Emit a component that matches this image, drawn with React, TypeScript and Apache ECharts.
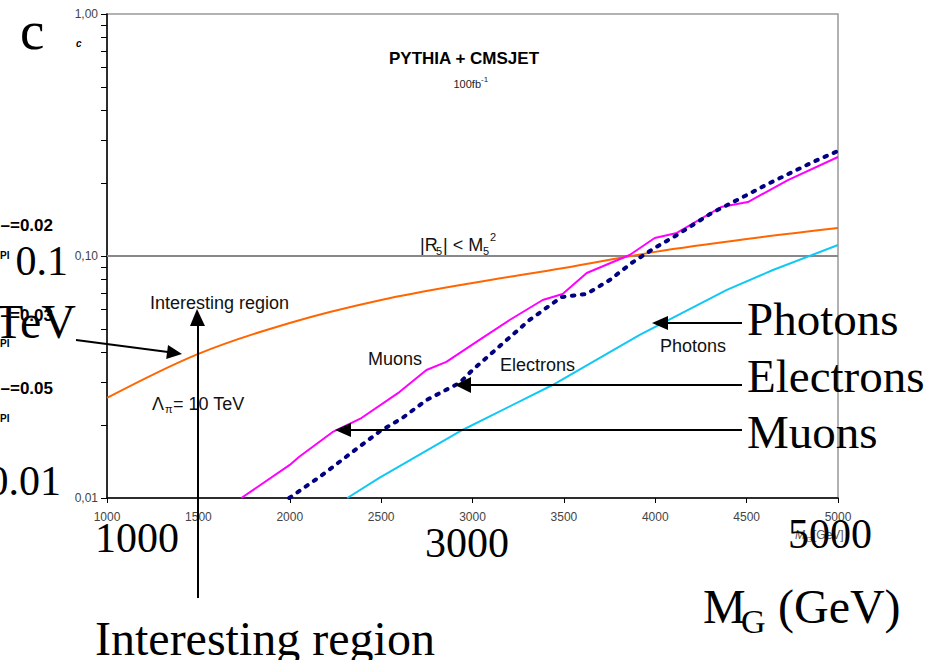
import React, { useEffect, useRef } from "react";
import * as echarts from "echarts";

// ---- data ----
const xTicks = [1000, 1500, 2000, 2500, 3000, 3500, 4000, 4500, 5000];
const yMajorLabels = [0.01, 0.1, 1];
const yTickValues = [
  0.01, 0.02, 0.03, 0.04, 0.05, 0.06, 0.07, 0.08, 0.09,
  0.1, 0.2, 0.3, 0.4, 0.5, 0.6, 0.7, 0.8, 0.9, 1,
];

// Lambda_pi = 10 TeV (orange)
const lambdaX = [1000, 1500, 2000, 2500, 3000, 3500, 4000, 4500, 5000];
const lambdaY = [0.0259, 0.0394, 0.0529, 0.0658, 0.0774, 0.0892, 0.104, 0.1175, 0.1305];

// Muons (magenta)
const muonX = [1735, 2000, 2052, 2233, 2392, 2600, 2748, 2857, 3038, 3203, 3384, 3493, 3625, 3860, 3997, 4118, 4360, 4507, 4726, 5000];
const muonY = [0.01, 0.0137, 0.0148, 0.0187, 0.0214, 0.0274, 0.0338, 0.0365, 0.045, 0.0544, 0.0658, 0.0697, 0.0851, 0.101, 0.1187, 0.1245, 0.1594, 0.167, 0.206, 0.2565];

// Electrons (navy, dotted)
const elecX = [1997, 2162, 2490, 2616, 2748, 2929, 3000, 3312, 3488, 3625, 3751, 3871, 3997, 4118, 4309, 4501, 4627, 4863, 5000];
const elecY = [0.01, 0.0122, 0.0188, 0.0214, 0.0254, 0.0299, 0.0338, 0.0544, 0.0677, 0.0697, 0.0796, 0.0936, 0.108, 0.122, 0.1506, 0.1787, 0.2004, 0.2446, 0.2716];

// Photons (cyan)
const photX = [2315, 2490, 2945, 3438, 3915, 4392, 4644, 5000];
const photY = [0.01, 0.0121, 0.0191, 0.0293, 0.0472, 0.0724, 0.0875, 0.111];

const limitValue = 0.1;

const pairs = (xs: number[], ys: number[]) => xs.map((x, i) => [x, ys[i]]);

const SERIF = "'Liberation Serif', 'Times New Roman', serif";
const SANS = "'Liberation Sans', Arial, sans-serif";

function txt(text: string, x: number, y: number, o: any = {}) {
  return {
    type: "text",
    x,
    y,
    z: 100,
    silent: true,
    style: {
      text,
      fill: o.fill || "#000",
      fontSize: o.size || 18,
      fontFamily: o.family || SANS,
      fontWeight: o.weight || "normal",
      fontStyle: o.style || "normal",
      align: o.align || "left",
      verticalAlign: "middle",
    },
  };
}

function seg(x1: number, y1: number, x2: number, y2: number) {
  return {
    type: "line",
    z: 100,
    silent: true,
    shape: { x1, y1, x2, y2 },
    style: { stroke: "#000", lineWidth: 2 },
  };
}

function head(points: number[][]) {
  return {
    type: "polygon",
    z: 100,
    silent: true,
    shape: { points },
    style: { fill: "#000" },
  };
}

export default function App() {
  const ref = useRef<HTMLDivElement>(null);

  useEffect(() => {
    if (!ref.current) return;
    const chart = echarts.init(ref.current, undefined, { renderer: "svg" });

    const graphic: any[] = [
      // small chart texts
      txt("c", 76, 43, { size: 10, weight: "bold", style: "italic" }),
      txt("PYTHIA + CMSJET", 464, 58, { size: 17, weight: "bold", align: "center" }),
      txt("100fb", 481, 84, { size: 11, align: "right", fill: "#222" }),
      txt("-1", 481, 79, { size: 8, fill: "#222" }),
      txt("|R", 420, 245, { size: 18, fill: "#111" }),
      txt("5", 436, 251, { size: 11, fill: "#111" }),
      txt("| < M", 443, 245, { size: 18, fill: "#111" }),
      txt("5", 483, 251, { size: 11, fill: "#111" }),
      txt("2", 490, 237, { size: 11, fill: "#111" }),
      txt("Interesting region", 150, 303, { size: 18, fill: "#111" }),
      txt("Λ", 152, 404, { size: 18, fill: "#111" }),
      txt("π", 165, 409, { size: 11, fill: "#111" }),
      txt("= 10 TeV", 173, 404, { size: 18, fill: "#111" }),
      txt("Muons", 368, 359, { size: 18, fill: "#111" }),
      txt("Electrons", 500, 365, { size: 18, fill: "#111" }),
      txt("Photons", 660, 346, { size: 18, fill: "#111" }),
      txt("M", 795, 535, { size: 12, fill: "#555", style: "italic" }),
      txt("G", 806, 539, { size: 8, fill: "#555" }),
      txt("[GeV]", 813, 535, { size: 12, fill: "#555" }),

      // clipped legend fragments at the left edge
      txt("–=0.02", 53, 225, { size: 17, weight: "bold", align: "right" }),
      txt("PI", 0, 255, { size: 10, weight: "bold" }),
      txt("–=0.03", 53, 315, { size: 17, weight: "bold", align: "right" }),
      txt("PI", 0, 343, { size: 10, weight: "bold" }),
      txt("–=0.05", 53, 388, { size: 17, weight: "bold", align: "right" }),
      txt("PI", 0, 418, { size: 10, weight: "bold" }),

      // arrows
      seg(198, 598, 198, 324),
      head([[197, 309], [190, 326], [205, 326]]),
      seg(76, 340, 168, 352),
      head([[182, 354], [166.2, 358.9], [168.0, 345.1]]),
      seg(667, 323, 742, 323),
      head([[652, 323], [668, 316], [668, 330]]),
      seg(470, 385, 742, 385),
      head([[455, 385], [471, 377], [471, 393]]),
      seg(350, 430, 742, 430),
      head([[335, 430], [351, 423], [351, 437]]),

      // large overlay texts (serif)
      txt("c", 20, 30, { size: 55, family: SERIF }),
      txt("0.1", 68, 261, { size: 42, family: SERIF, align: "right" }),
      txt("TeV", 76, 321, { size: 48, family: SERIF, align: "right" }),
      txt("0.01", 61, 481, { size: 42, family: SERIF, align: "right" }),
      txt("1000", 95, 538, { size: 42, family: SERIF }),
      txt("3000", 425, 543, { size: 42, family: SERIF }),
      txt("5000", 788, 534, { size: 42, family: SERIF }),
      txt("M", 703, 606, { size: 48, family: SERIF }),
      txt("G", 741, 621, { size: 34, family: SERIF }),
      txt("(GeV)", 778, 606, { size: 48, family: SERIF }),
      txt("Interesting region", 95, 638, { size: 48, family: SERIF }),
      txt("Photons", 747, 319, { size: 47, family: SERIF }),
      txt("Electrons", 747, 376, { size: 47, family: SERIF }),
      txt("Muons", 747, 432, { size: 47, family: SERIF }),
    ];

    chart.setOption({
      animation: false,
      backgroundColor: "#fff",
      grid: {
        left: 107,
        right: 105,
        top: 14,
        bottom: 162,
        show: true,
        borderColor: "#999",
        borderWidth: 1.5,
        backgroundColor: "transparent",
      },
      xAxis: {
        type: "value",
        min: xTicks[0],
        max: xTicks[xTicks.length - 1],
        interval: 500,
        axisLine: { show: true, lineStyle: { color: "#000", width: 1.5 } },
        axisTick: { show: true, length: 5, lineStyle: { color: "#000" } },
        axisLabel: {
          color: "#444",
          fontSize: 12,
          margin: 13,
          fontFamily: SANS,
          formatter: (v: number) => String(v),
        },
        splitLine: { show: false },
      },
      yAxis: {
        type: "log",
        logBase: 10,
        min: yMajorLabels[0],
        max: yMajorLabels[yMajorLabels.length - 1],
        axisLine: { show: true, onZero: false, lineStyle: { color: "#000", width: 1.5 } },
        axisTick: {
          show: true,
          length: 6,
          customValues: yTickValues,
          lineStyle: { color: "#000" },
        },
        axisLabel: {
          color: "#444",
          fontSize: 12,
          margin: 9,
          fontFamily: SANS,
          customValues: yMajorLabels,
          formatter: (v: number) => v.toFixed(2).replace(".", ","),
        },
        splitLine: { show: false },
        minorTick: { show: false },
      },
      series: [
        {
          name: "Λπ = 10 TeV",
          type: "line",
          data: pairs(lambdaX, lambdaY),
          showSymbol: false,
          smooth: 0.35,
          lineStyle: { color: "#FF6600", width: 2 },
          markLine: {
            silent: true,
            symbol: "none",
            label: { show: false },
            lineStyle: { color: "#888", width: 2, type: "solid" },
            data: [{ yAxis: limitValue }],
            z: 1,
          },
          z: 3,
        },
        {
          name: "Muons",
          type: "line",
          data: pairs(muonX, muonY),
          showSymbol: false,
          lineStyle: { color: "#FF00FF", width: 2 },
          z: 4,
        },
        {
          name: "Electrons",
          type: "line",
          data: pairs(elecX, elecY),
          showSymbol: false,
          lineStyle: { color: "#000080", width: 4, type: [2.5, 7.5], cap: "round" },
          z: 5,
        },
        {
          name: "Photons",
          type: "line",
          data: pairs(photX, photY),
          showSymbol: false,
          lineStyle: { color: "#11C8F5", width: 2 },
          z: 3,
        },
      ],
      graphic,
    });

    return () => chart.dispose();
  }, []);

  return (
    <div
      ref={ref}
      style={{ position: "fixed", left: 0, top: 0, width: 943, height: 660, background: "#fff" }}
    />
  );
}
